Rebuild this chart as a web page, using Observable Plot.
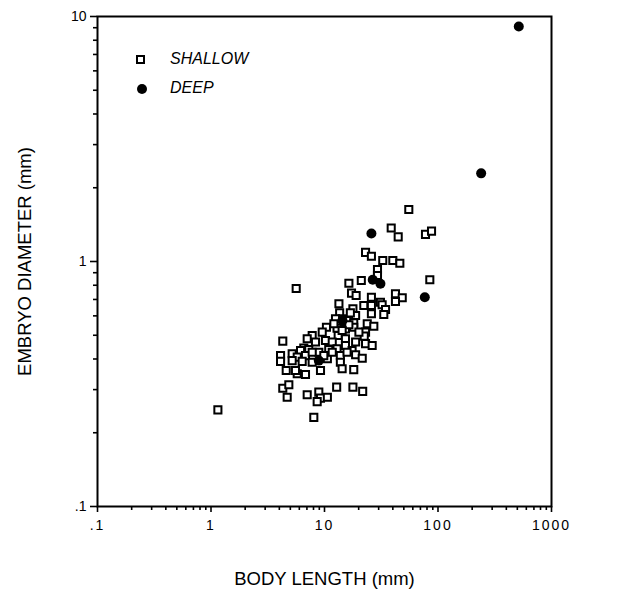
<!DOCTYPE html>
<html>
<head>
<meta charset="utf-8">
<script src="https://cdn.jsdelivr.net/npm/d3@7"></script>
<script src="https://cdn.jsdelivr.net/npm/@observablehq/plot@0.6"></script>
<style>
  html, body { margin: 0; padding: 0; background: #fff; }
  #wrap { position: relative; width: 633px; height: 604px; font-family: "Liberation Sans", Arial, Helvetica, sans-serif; }
  #wrap svg { display: block; }
  g[aria-label="x-axis label"] text, g[aria-label="y-axis label"] text { font-size: 18.5px; }
  g[aria-label="x-axis tick label"] text { letter-spacing: 2px; }
  .legend { position: absolute; left: 0; top: 0; font-style: italic; font-size: 16px; color: #000; }
  .row { position: absolute; white-space: nowrap; }
  .sq { position: absolute; width: 5px; height: 5px; border: 2px solid #000; background: #fff; }
  .ci { position: absolute; width: 10px; height: 10px; border-radius: 50%; background: #000; }
</style>
</head>
<body>
<div id="wrap"></div>
<script>
// ---- data ----
// SHALLOW: body length (mm)
const shallowX = [55.3, 38.7, 44.6, 77.6, 87.7, 23.0, 25.9, 32.6, 40.0, 46.1,
  29.3, 29.3, 84.7, 5.63, 16.4, 21.1, 17.3, 19.0, 42.2, 48.4,
  42.2, 25.9, 31.1, 13.4, 22.2, 25.9, 32.2, 34.5, 17.8, 18.8,
  25.9, 33.3, 13.6, 14.3, 12.5, 15.8, 18.1, 23.8, 27.2, 15.3,
  18.1, 12.9, 10.4, 9.55, 7.79, 23.0, 13.2, 15.3, 22.4, 7.04,
  8.33, 10.2, 11.7, 18.8, 23.0, 26.3, 4.29, 15.3, 6.57, 6.15,
  7.27, 8.91, 10.9, 12.9, 17.5, 4.10, 5.19, 5.75, 6.80, 10.6,
  13.8, 18.8, 21.5, 4.10, 5.19, 6.36, 7.79, 13.8, 4.60, 5.75,
  6.80, 9.22, 14.3, 18.1, 5.55, 4.29, 4.85, 4.69, 7.04, 8.91,
  9.22, 8.62, 10.6, 12.8, 17.8, 21.7, 8.05, 1.15,
  12.1, 16.4, 16.9, 20.1, 11.7, 15.8, 9.86, 7.79, 14.3];
// SHALLOW: embryo diameter (mm)
const shallowY = [1.63, 1.37, 1.26, 1.29, 1.33, 1.09, 1.05, 1.01, 1.01, 0.984,
  0.928, 0.877, 0.842, 0.776, 0.815, 0.836, 0.743, 0.727, 0.738, 0.711,
  0.687, 0.715, 0.682, 0.672, 0.661, 0.661, 0.666, 0.637, 0.641, 0.602,
  0.612, 0.608, 0.617, 0.584, 0.584, 0.574, 0.562, 0.557, 0.544, 0.531,
  0.539, 0.534, 0.539, 0.515, 0.499, 0.515, 0.499, 0.484, 0.496, 0.484,
  0.469, 0.476, 0.469, 0.469, 0.462, 0.454, 0.473, 0.454, 0.443, 0.433,
  0.437, 0.426, 0.437, 0.440, 0.433, 0.413, 0.420, 0.407, 0.413, 0.401,
  0.413, 0.416, 0.403, 0.391, 0.394, 0.391, 0.388, 0.388, 0.359, 0.348,
  0.346, 0.359, 0.365, 0.362, 0.359, 0.304, 0.314, 0.279, 0.286, 0.293,
  0.277, 0.268, 0.279, 0.307, 0.307, 0.295, 0.231, 0.248,
  0.557, 0.552, 0.617, 0.515, 0.426, 0.426, 0.413, 0.426, 0.523];
// DEEP
const deepX = [25.9, 26.6, 31.1, 76.5, 8.91, 14.4, 515, 240];
const deepY = [1.30, 0.842, 0.811, 0.715, 0.394, 0.574, 9.10, 2.29];

const seriesNames = ["SHALLOW", "DEEP"];
const xTicks = [0.1, 1, 10, 100, 1000];
const xTickLabels = [".1", "1", "10", "100", "1000"];
const yTicks = [0.1, 1, 10];
const yTickLabels = [".1", "1", "10"];
const xLabel = "BODY LENGTH (mm)";
const yLabel = "EMBRYO DIAMETER (mm)";

// ---- build ----
const shallow = shallowX.map((x, i) => ({x, y: shallowY[i]}));
const deep = deepX.map((x, i) => ({x, y: deepY[i]}));
const minorTicks = (lo, hi) => {
  const out = [];
  for (let p = lo; p < hi; p++) for (let k = 2; k <= 9; k++) out.push(k * Math.pow(10, p));
  return out;
};
const fmt = (ticks, labels) => d => labels[ticks.findIndex(t => Math.abs(t - d) / t < 1e-9)] ?? "";

const chart = Plot.plot({
  width: 633,
  height: 604,
  marginLeft: 97,
  marginRight: 82,
  marginTop: 16,
  marginBottom: 98,
  style: {fontFamily: '"Liberation Sans", Arial, Helvetica, sans-serif', fontSize: "14px", color: "#000", background: "#fff"},
  x: {type: "log", domain: [0.1, 1000]},
  y: {type: "log", domain: [0.1, 10]},
  marks: [
    Plot.axisX(minorTicks(-1, 3), {tickSize: 4, tickFormat: () => "", label: null, strokeWidth: 1.6}),
    Plot.axisX(xTicks, {tickSize: 6, tickPadding: 8, tickFormat: fmt(xTicks, xTickLabels), strokeWidth: 1.6,
      label: xLabel, labelAnchor: "center", labelArrow: "none", labelOffset: 78}),
    Plot.axisY(minorTicks(-1, 1), {tickSize: 4, tickFormat: () => "", label: null, strokeWidth: 1.6}),
    Plot.axisY(yTicks, {tickSize: 7, tickPadding: 4, tickFormat: fmt(yTicks, yTickLabels), strokeWidth: 1.6,
      label: yLabel, labelAnchor: "center", labelArrow: "none", labelOffset: 80}),
    Plot.frame({stroke: "#000", strokeWidth: 2}),
    Plot.dot(shallow, {x: "x", y: "y", symbol: "square", r: 4, stroke: "#000", fill: "#fff", strokeWidth: 2}),
    Plot.dot(deep, {x: "x", y: "y", symbol: "circle", r: 5, stroke: "none", fill: "#000"})
  ]
});

const wrap = document.getElementById("wrap");
wrap.appendChild(chart);

// legend
const legend = document.createElement("div");
legend.className = "legend";
legend.innerHTML = `
  <div class="sq" style="left:136px;top:55px"></div>
  <div class="row" style="left:170px;top:50px">${seriesNames[0]}</div>
  <div class="ci" style="left:137px;top:84px"></div>
  <div class="row" style="left:170px;top:79px">${seriesNames[1]}</div>`;
wrap.appendChild(legend);
</script>
</body>
</html>
